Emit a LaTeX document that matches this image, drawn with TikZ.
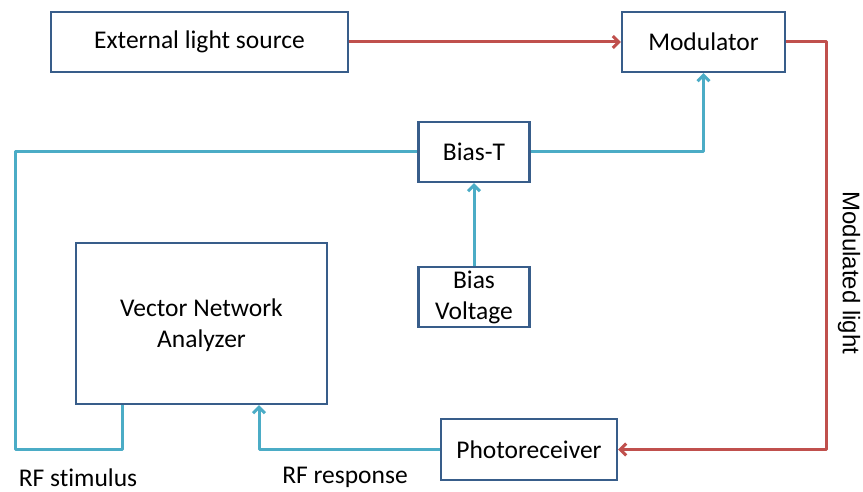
\documentclass[tikz,border=0pt]{standalone}
\usepackage{fontspec}
\setmainfont[Ligatures=CommonOff]{Carlito}
\newfontfamily\arialfont{Liberation Sans}
\usetikzlibrary{arrows.meta}
\definecolor{boxblue}{HTML}{385D8A}
\definecolor{redline}{HTML}{C0504D}
\definecolor{blueline}{HTML}{4BACC6}
\begin{document}
\begin{tikzpicture}[x=1pt,y=-1pt,
  box/.style={draw=boxblue,line width=2.2pt,fill=white,inner sep=0pt,align=center,
    font=\fontsize{25.5}{31}\selectfont},
  redc/.style={draw=redline,line width=3pt,line join=round},
  bluec/.style={draw=blueline,line width=3pt,line join=round},
  arr/.style={-{Straight Barb[length=6pt,width=12pt,line width=3pt]}},
  lbl/.style={font=\fontsize{25.5}{31}\selectfont,inner sep=0pt},
  vlbl/.style={font=\arialfont\fontsize{24}{28}\selectfont,inner sep=0pt}]
\useasboundingbox (0,0) rectangle (863,492);
\node[box,minimum width=297pt,minimum height=60pt] (els) at (199.5,42) {External light source};
\node[box,minimum width=163pt,minimum height=60pt] (mod) at (703.5,42) {Modulator};
\node[box,minimum width=111pt,minimum height=60pt] (biast) at (474,152) {Bias-T};
\node[box,minimum width=111pt,minimum height=60pt] (biasv) at (474,297) {Bias\\Voltage};
\node[box,minimum width=251pt,minimum height=161pt,text depth=0pt] (vna) at (201.5,323.5) {Vector Network\\Analyzer};
\node[box,minimum width=176pt,minimum height=61pt] (photo) at (529,449.5) {Photoreceiver};
\coordinate (rc) at (826,449.5);
\coordinate (bl) at (15,449.5);
\node[lbl] (stim) at (78,478) {RF stimulus};
\node[lbl] (resp) at (345,477) {RF response};
\node[vlbl,rotate=-90] (ml) at (849,273) {Modulated light};
\draw[redc,arr] (els.east) -- (mod.west);
\draw[redc,arr] (mod.east) -| (rc) -- (photo.east);
\draw[bluec,arr] (biast.east) -| (mod.south);
\draw[bluec,arr] (biasv.north) -- (biast.south);
\draw[bluec] (biast.west) -| (bl) -| ([xshift=-79.5pt]vna.south);
\draw[bluec,arr] (photo.west) -| ([xshift=57.5pt]vna.south);
\end{tikzpicture}
\end{document}
